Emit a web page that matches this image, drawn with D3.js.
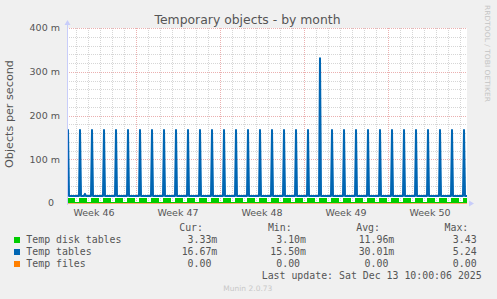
<!DOCTYPE html>
<html><head><meta charset="utf-8">
<script src="https://cdn.jsdelivr.net/npm/d3@7"></script>
<style>
body{margin:0;background:#f0f0f0;}
svg{display:block;}
text{white-space:pre;}
</style></head><body>
<svg id="c" width="497" height="299"></svg>
<script>
// ---------------- data ----------------
const chartTitle = "Temporary objects - by month";
const yAxisLabel = "Objects per second";
const yTickValues = [0, 100, 200, 300, 400];          // milli-objects/s
const yTickLabels = ["0  ", "100 m", "200 m", "300 m", "400 m"];
const weekStarts = ["2025-11-09", "2025-11-16", "2025-11-23", "2025-11-30", "2025-12-07"];
const weekLabels = ["Week 46", "Week 47", "Week 48", "Week 49", "Week 50"];
const rangeStart = "2025-11-10T06:00:00Z";
const rangeEnd = "2025-12-13T14:00:00Z";

// Temp tables: flat baseline with one daily spike (08:00)
const tablesBaseline = 16;
const spikeTimes = [
 "2025-11-10T08:00Z","2025-11-11T08:00Z","2025-11-12T08:00Z","2025-11-13T08:00Z","2025-11-14T08:00Z",
 "2025-11-15T08:00Z","2025-11-16T08:00Z","2025-11-17T08:00Z","2025-11-18T08:00Z","2025-11-19T08:00Z",
 "2025-11-20T08:00Z","2025-11-21T08:00Z","2025-11-22T08:00Z","2025-11-23T08:00Z","2025-11-24T08:00Z",
 "2025-11-25T08:00Z","2025-11-26T08:00Z","2025-11-27T08:00Z","2025-11-28T08:00Z","2025-11-29T08:00Z",
 "2025-11-30T08:00Z","2025-12-01T08:00Z","2025-12-02T08:00Z","2025-12-03T08:00Z","2025-12-04T08:00Z",
 "2025-12-05T08:00Z","2025-12-06T08:00Z","2025-12-07T08:00Z","2025-12-08T08:00Z","2025-12-09T08:00Z",
 "2025-12-10T08:00Z","2025-12-11T08:00Z","2025-12-12T08:00Z","2025-12-13T08:00Z"];
const spikeValues = [
 167,167,167,167,167,167,167,167,167,167,
 167,167,167,167,167,167,167,167,167,167,
 167,331,167,167,167,167,167,167,167,167,
 167,167,167,167];
const blipTimes = ["2025-11-11T18:00Z"];
const blipValues = [21];

// Temp disk tables: low baseline, raised block around each daily job
const diskBaseline = 3.33;
const diskHighValues = [
 12.5,12.5,12.5,12.5,12.5,12.5,12.5,12.5,12.5,12.5,
 12.5,12.5,12.5,12.5,12.5,12.5,12.5,12.5,12.5,12.5,
 12.5,12.5,12.5,12.5,12.5,12.5,12.5,12.5,12.5,12.5,
 12.5,12.5,12.5,12.5];

// Temp files: zero throughout
const filesValues = [0, 0];

// legend
const legendNames = ["Temp disk tables", "Temp tables", "Temp files"];
const legendColors = ["#00cc00", "#0066b3", "#ff8000"];
const legendHeaders = ["Cur:", "Min:", "Avg:", "Max:"];
const curVals = ["3.33m", "16.67m", "0.00 "];
const minVals = ["3.10m", "15.50m", "0.00 "];
const avgVals = ["11.96m", "30.01m", "0.00 "];
const maxVals = ["3.43 ", "5.24 ", "0.00 "];
const lastUpdate = "Last update: Sat Dec 13 10:00:06 2025";
const footer = "Munin 2.0.73";
const watermark = "RRDTOOL / TOBI OETIKER";

// ---------------- drawing ----------------
const svg = d3.select("#c");
const W = 497, H = 299;
const L = 67, R = 467, T = 28, B = 203;
const HOUR = 3600e3;
const t0 = new Date(rangeStart), t1 = new Date(rangeEnd);
const x = d3.scaleUtc().domain([t0, t1]).range([L, R]);
const y = d3.scaleLinear().domain([0, 400]).range([B, T]);

svg.append("rect").attr("width", W).attr("height", H).attr("fill", "#f0f0f0");
svg.append("rect").attr("x", L).attr("y", T).attr("width", R - L).attr("height", B - T).attr("fill", "#ffffff");

const minorCol = "#d6d6d6", majorCol = "#ebb0b0";
const grid = svg.append("g").attr("shape-rendering", "crispEdges");
// minor horizontal grid every 20m
d3.range(20, 401, 20).filter(v => v % 100 !== 0).forEach(v => {
  grid.append("line").attr("x1", L).attr("x2", R).attr("y1", Math.round(y(v)) + 0.5).attr("y2", Math.round(y(v)) + 0.5)
    .attr("stroke", minorCol).attr("stroke-dasharray", "1,1");
});
// minor vertical grid: daily
const days = d3.utcDay.range(d3.utcDay.ceil(t0), t1);
days.forEach(d => {
  if (d.getUTCDay() === 0) return;
  const px = Math.round(x(d)) + 0.5;
  grid.append("line").attr("x1", px).attr("x2", px).attr("y1", T).attr("y2", B)
    .attr("stroke", minorCol).attr("stroke-dasharray", "1,1");
});
// major horizontal grid
yTickValues.filter(v => v > 0).forEach(v => {
  grid.append("line").attr("x1", L).attr("x2", R).attr("y1", Math.round(y(v)) + 0.5).attr("y2", Math.round(y(v)) + 0.5)
    .attr("stroke", majorCol).attr("stroke-dasharray", "1,1");
});
// major vertical grid (week starts)
weekStarts.map(s => new Date(s + "T00:00:00Z")).filter(d => d > t0 && d < t1).forEach(d => {
  const px = Math.round(x(d)) + 0.5;
  grid.append("line").attr("x1", px).attr("x2", px).attr("y1", T).attr("y2", B)
    .attr("stroke", majorCol).attr("stroke-dasharray", "1,1");
});

// Temp disk tables area (step)
const diskPts = [{t: t0, v: diskBaseline}];
spikeTimes.forEach((s, i) => {
  const st = new Date(s);
  diskPts.push({t: new Date(Math.max(+t0, st - 2 * HOUR)), v: diskHighValues[i]});
  diskPts.push({t: new Date(Math.min(+t1, +st + 14 * HOUR)), v: diskBaseline});
});
diskPts.push({t: t1, v: diskPts[diskPts.length - 1].v});
diskPts.sort((a, b) => a.t - b.t);
svg.append("path")
  .datum(diskPts)
  .attr("fill", legendColors[0])
  .attr("shape-rendering", "crispEdges")
  .attr("d", d3.area().curve(d3.curveStepAfter).x(d => x(d.t)).y0(y(0)).y1(d => y(d.v)));

// Temp tables line
const tabPts = [{t: t0, v: tablesBaseline}];
spikeTimes.forEach((s, i) => {
  const st = new Date(s);
  tabPts.push({t: new Date(+st - 2 * HOUR), v: tablesBaseline});
  tabPts.push({t: st, v: spikeValues[i]});
  tabPts.push({t: new Date(+st + 2 * HOUR), v: tablesBaseline});
});
blipTimes.forEach((s, i) => {
  const st = new Date(s);
  tabPts.push({t: new Date(+st - 2 * HOUR), v: tablesBaseline});
  tabPts.push({t: st, v: blipValues[i]});
  tabPts.push({t: new Date(+st + 2 * HOUR), v: tablesBaseline});
});
tabPts.push({t: t1, v: tablesBaseline});
tabPts.sort((a, b) => a.t - b.t);
svg.append("clipPath").attr("id", "pc").append("rect")
  .attr("x", L).attr("y", T - 5).attr("width", R - L).attr("height", B - T + 5);
svg.append("path")
  .datum(tabPts.filter(d => d.t >= t0 && d.t <= t1))
  .attr("clip-path", "url(#pc)")
  .attr("fill", "none").attr("stroke", legendColors[1]).attr("stroke-width", 2)
  .attr("stroke-linejoin", "round")
  .attr("d", d3.line().x(d => x(d.t)).y(d => y(d.v)));

// Temp files line
svg.append("path")
  .datum([{t: t0, v: filesValues[0]}, {t: t1, v: filesValues[1]}])
  .attr("fill", "none").attr("stroke", legendColors[2]).attr("stroke-width", 1).attr("opacity", 0.55)
  .attr("d", d3.line().x(d => x(d.t)).y(d => y(d.v) + 0.5));

// axes lines & arrows
const axisCol = "#c8cdfa";
svg.append("line").attr("x1", L + 0.5).attr("x2", L + 0.5).attr("y1", B + 2).attr("y2", T - 4)
  .attr("stroke", axisCol);
svg.append("path").attr("d", `M${L - 2.5},${T - 3} L${L + 3.5},${T - 3} L${L + 0.5},${T - 8} Z`).attr("fill", axisCol);
svg.append("path").attr("d", `M${R + 2},${B - 2.5} L${R + 2},${B + 3.5} L${R + 7},${B + 0.5} Z`).attr("fill", axisCol);

// y tick labels
const labelCol = "#555555";
yTickValues.forEach((v, i) => {
  svg.append("text").attr("x", 60).attr("y", y(v) + 3.4).attr("text-anchor", "end")
    .attr("font-family", "DejaVu Sans").attr("font-size", 9.5).attr("fill", labelCol)
    .text(yTickLabels[i]);
});
// week labels (mid-week)
weekStarts.forEach((s, i) => {
  const mid = new Date(new Date(s + "T00:00:00Z").getTime() + 3.5 * 24 * HOUR);
  svg.append("text").attr("x", x(mid)).attr("y", 215.7).attr("text-anchor", "middle")
    .attr("font-family", "DejaVu Sans").attr("font-size", 9.5).attr("fill", labelCol)
    .text(weekLabels[i]);
});

// title
svg.append("text").attr("x", 247.5).attr("y", 24).attr("text-anchor", "middle")
  .attr("font-family", "DejaVu Sans").attr("font-size", 12.4).attr("fill", "#555555")
  .text(chartTitle);
// y label
svg.append("text").attr("transform", "translate(13,114) rotate(-90)").attr("text-anchor", "middle")
  .attr("font-family", "DejaVu Sans").attr("font-size", 11.2).attr("fill", labelCol)
  .text(yAxisLabel);
// watermark
svg.append("text").attr("transform", "translate(485,5) rotate(90)")
  .attr("font-family", "DejaVu Sans").attr("font-size", 7).attr("fill", "#c4c4c4")
  .attr("textLength", 97).attr("lengthAdjust", "spacingAndGlyphs")
  .text(watermark);

// legend
const mono = "DejaVu Sans Mono", lfs = 9.9;
const colRight = [217.3, 306, 394.3, 482.6];
const cols = [curVals, minVals, avgVals, maxVals];
legendHeaders.forEach((h, j) => {
  svg.append("text").attr("x", colRight[j] - 14.3).attr("y", 230.5).attr("text-anchor", "end")
    .attr("font-family", mono).attr("font-size", lfs).attr("fill", labelCol).text(h);
});
legendNames.forEach((n, i) => {
  const by = 242.5 + i * 12;
  svg.append("rect").attr("x", 14).attr("y", by - 5.5).attr("width", 6).attr("height", 6)
    .attr("fill", legendColors[i]);
  svg.append("text").attr("x", 26.3).attr("y", by)
    .attr("font-family", mono).attr("font-size", lfs).attr("fill", labelCol).text(n);
  cols.forEach((c, j) => {
    svg.append("text").attr("x", colRight[j]).attr("y", by).attr("text-anchor", "end")
      .attr("font-family", mono).attr("font-size", lfs).attr("fill", labelCol).text(c[i]);
  });
});
svg.append("text").attr("x", 481.7).attr("y", 278.5).attr("text-anchor", "end")
  .attr("font-family", mono).attr("font-size", lfs).attr("fill", labelCol).text(lastUpdate);
svg.append("text").attr("x", 223.3).attr("y", 291).attr("font-family", "DejaVu Sans")
  .attr("font-size", 7.5).attr("fill", "#c8c8c8").text(footer);
</script>
</body></html>
